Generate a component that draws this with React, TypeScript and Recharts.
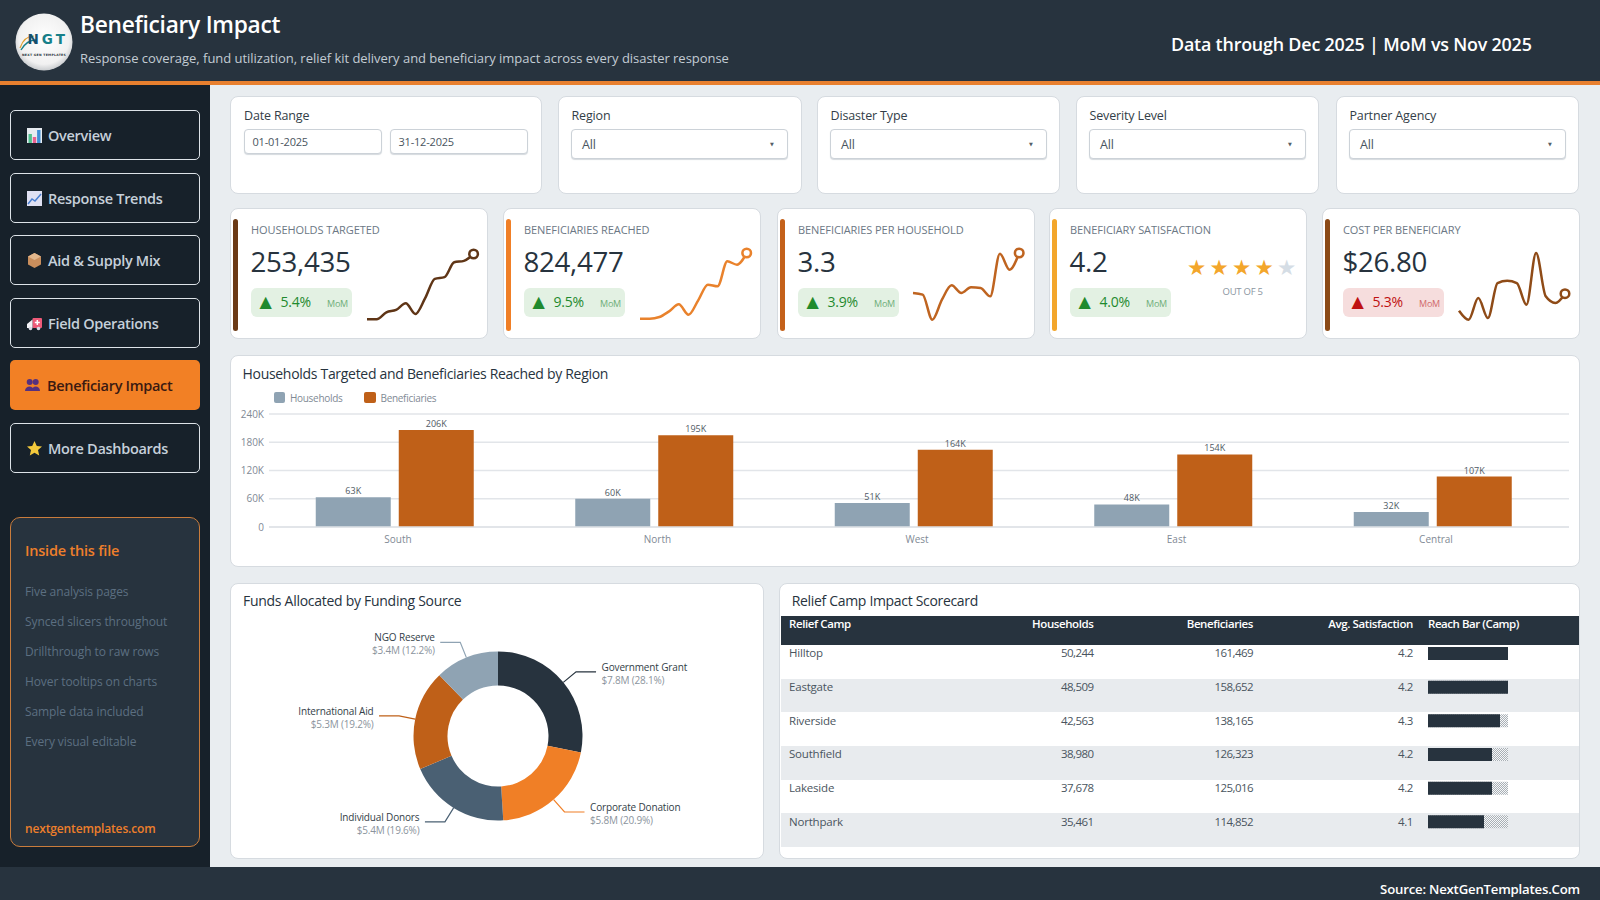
import React from "react";
import {
  Bar,
  BarChart,
  CartesianGrid,
  Cell,
  LabelList,
  Legend,
  Line,
  LineChart,
  Pie,
  PieChart,
  XAxis,
  YAxis,
} from "recharts";

const FONT = "'Open Sans', 'Noto Sans', sans-serif";
const NAVY = "#27333e";
const SLATE = "#8fa3b3";
const RUST = "#bf6018";
const ORANGE = "#f07f26";

const navItems = ["Overview", "Response Trends", "Aid & Supply Mix", "Field Operations", "Beneficiary Impact", "More Dashboards"];
const insideItems = ["Five analysis pages", "Synced slicers throughout", "Drillthrough to raw rows", "Hover tooltips on charts", "Sample data included", "Every visual editable"];
const selectFilters = ["Region", "Disaster Type", "Severity Level", "Partner Agency"];

const kpiTitles = ["HOUSEHOLDS TARGETED", "BENEFICIARIES REACHED", "BENEFICIARIES PER HOUSEHOLD", "BENEFICIARY SATISFACTION", "COST PER BENEFICIARY"];
const kpiValues = ["253,435", "824,477", "3.3", "4.2", "$26.80"];
const kpiChanges = ["5.4%", "9.5%", "3.9%", "4.0%", "5.3%"];

// monthly trend behind each KPI sparkline, Jan to Dec
const householdsTrend = [18000, 18000, 18640, 18860, 19470, 18490, 19940, 21710, 21870, 23240, 23370, 24000];
const beneficiariesTrend = [58000, 58000, 58800, 61520, 64880, 59920, 66800, 74320, 73520, 85520, 83920, 89520];
const ratioTrend = [3.16, 3.15, 3.0, 3.12, 3.206, 3.16, 3.194, 3.19, 3.14, 3.396, 3.3, 3.4];
const costTrend = [24.54, 24.0, 25.3, 24.1, 26.2, 26.34, 26.2, 24.9, 28.0, 25.4, 25.0, 25.56];

const regions = ["South", "North", "West", "East", "Central"];
const regionHouseholds = [63000, 60000, 51000, 48000, 32000];
const regionBeneficiaries = [206000, 195000, 164000, 154000, 107000];
const regionTicks = [0, 60000, 120000, 180000, 240000];

const fundingSources = ["Government Grant", "Corporate Donation", "Individual Donors", "International Aid", "NGO Reserve"];
const fundingMillions = [7.79, 5.79, 5.43, 5.32, 3.38];
const fundingColors = [NAVY, ORANGE, "#4a6073", RUST, SLATE];

const camps = ["Hilltop", "Eastgate", "Riverside", "Southfield", "Lakeside", "Northpark"];
const campHouseholds = ["50,244", "48,509", "42,563", "38,980", "37,678", "35,461"];
const campBeneficiaries = ["161,469", "158,652", "138,165", "126,323", "125,016", "114,852"];
const campSatisfaction = ["4.2", "4.2", "4.3", "4.2", "4.2", "4.1"];
const campReach = [100, 100, 90, 80, 80, 70];

const regionData = regions.map((region, i) => ({
  region,
  Households: regionHouseholds[i],
  Beneficiaries: regionBeneficiaries[i],
}));
const fundingData = fundingSources.map((name, i) => ({ name, value: fundingMillions[i] }));
const reachData = camps.map((camp, i) => ({ camp, reach: campReach[i] }));

const formatK = (v: number) => (v === 0 ? "0" : `${Math.round(v / 1000)}K`);

function Txt({ x, cy, size, color, weight = 400, right, children, spacing = -0.2 }: any) {
  return (
    <div
      style={{
        position: "absolute",
        left: right === undefined ? x : undefined,
        right: right === undefined ? undefined : 1600 - right,
        top: cy - size,
        lineHeight: `${size * 2}px`,
        fontSize: size,
        color,
        fontWeight: weight,
        whiteSpace: "nowrap",
        letterSpacing: spacing,
      }}
    >
      {children}
    </div>
  );
}

function Box({ x, y, w, h, style, children }: any) {
  return (
    <div style={{ position: "absolute", left: x, top: y, width: w, height: h, boxSizing: "border-box", ...style }}>
      {children}
    </div>
  );
}

const cardStyle = { background: "#fff", border: "1px solid #d6dbe0", borderRadius: 8 };
const inputStyle = { background: "#fff", border: "1px solid #ccd2d8", borderRadius: 4, boxShadow: "0 1px 1px #d5dade" };

function NavIcon({ index }: { index: number }) {
  const icons = [
    <g key="0">
      <rect x="0" y="0" width="15" height="15" fill="#e6ebf0" />
      <rect x="1.5" y="6" width="3.4" height="9" fill="#4fc08d" />
      <rect x="5.8" y="9" width="3.4" height="6" fill="#e8608f" />
      <rect x="10.1" y="2" width="3.4" height="13" fill="#3f8fd6" />
    </g>,
    <g key="1">
      <rect x="0" y="0" width="15" height="15" fill="#dfe0f2" />
      <path d="M1 13 L5 8 L8 10 L14 3" stroke="#4a7fd0" strokeWidth="1.5" fill="none" />
    </g>,
    <g key="2">
      <path d="M7.5 0 L14 3.5 L14 11.5 L7.5 15 L1 11.5 L1 3.5 Z" fill="#c98e5c" />
      <path d="M7.5 7 L14 3.5 L7.5 0 L1 3.5 Z" fill="#e2b78c" />
    </g>,
    <g key="3">
      <rect x="5.5" y="2" width="9.5" height="10" rx="1" fill="#ee5a78" />
      <path d="M0 8 L5.5 3.5 L5.5 12 L0 12 Z" fill="#f2f2f6" />
      <path d="M10.3 4 v5 M7.8 6.5 h5" stroke="#fff" strokeWidth="1.5" />
      <circle cx="3.5" cy="12.5" r="1.8" fill="#d9d9e6" />
      <circle cx="11.5" cy="12.5" r="1.8" fill="#d9d9e6" />
    </g>,
    <g key="4" fill="#56307f">
      <circle cx="4.7" cy="5" r="3" />
      <circle cx="10.7" cy="5" r="3" />
      <path d="M0 14 C0 8 9 8 9 14 Z" />
      <path d="M6.5 14 C6.5 8 15 8 15 14 Z" />
    </g>,
    <path key="5" d="M7.5 0 L9.8 5 L15 5.6 L11 9.1 L12.2 14.5 L7.5 11.7 L2.8 14.5 L4 9.1 L0 5.6 L5.2 5 Z" fill="#f3c93c" />,
  ];
  return (
    <svg width="15" height="15" viewBox="0 0 15 15" style={{ position: "absolute", left: index === 4 ? 15 : 15.5, top: 17 }}>
      {icons[index]}
    </svg>
  );
}

function Logo() {
  return (
    <svg width="58" height="58" viewBox="0 0 58 58" style={{ position: "absolute", left: 14.5, top: 13 }}>
      <defs>
        <radialGradient id="logoBg" cx="50%" cy="45%" r="55%">
          <stop offset="0%" stopColor="#ffffff" />
          <stop offset="80%" stopColor="#f1f1f1" />
          <stop offset="100%" stopColor="#c9cccf" />
        </radialGradient>
      </defs>
      <circle cx="29" cy="29" r="28.5" fill="url(#logoBg)" />
      <path d="M5 35 C8 26 13 23 19 23" stroke="#e0a030" strokeWidth="1.2" fill="none" />
      <path d="M6 37 C10 30 15 27 21 27" stroke="#18808a" strokeWidth="1.4" fill="none" />
      <text x="12.5" y="31" fontFamily="'DejaVu Sans', sans-serif" fontWeight="700" fontSize="13.5" letterSpacing="3">
        <tspan fill="#17506e">N</tspan>
        <tspan fill="#178089">G</tspan>
        <tspan fill="#178089">T</tspan>
      </text>
      <text x="29" y="42.5" textAnchor="middle" fontFamily="'DejaVu Sans', sans-serif" fontWeight="700" fontSize="3.1" fill="#2a3540" letterSpacing="0.3">
        NEXT GEN TEMPLATES
      </text>
    </svg>
  );
}

function Sparkline({ values, color, x1, x2, y1, y2 }: any) {
  const pad = 8;
  const data = values.map((v: number, i: number) => ({ m: i, v }));
  const width = x2 - x1 + pad * 2;
  const height = y2 - y1 + pad * 2;
  return (
    <div style={{ position: "absolute", left: x1 - pad, top: y1 - pad }}>
      <LineChart width={width} height={height} data={data} margin={{ top: pad, right: pad, bottom: pad, left: pad }}>
        <XAxis dataKey="m" hide />
        <YAxis hide domain={["dataMin", "dataMax"]} />
        <Line
          type="monotone"
          dataKey="v"
          stroke={color}
          strokeWidth={2.5}
          isAnimationActive={false}
          dot={(p: any) =>
            p.index === values.length - 1 ? (
              <circle key="end" cx={p.cx} cy={p.cy} r={4.3} fill="#fff" stroke={color} strokeWidth={2.5} />
            ) : (
              <g key={p.index} />
            )
          }
        />
      </LineChart>
    </div>
  );
}

function KpiCard({ index, x, accent, good = true, children }: any) {
  const fg = good ? "#1f8a2e" : "#bf1111";
  return (
    <Box x={x} y={208} w={257.5} h={131} style={cardStyle}>
      <Box x={1.5} y={10} w={5} h={112} style={{ background: accent, borderRadius: 3 }} />
      <Txt x={20} cy={21} size={11} color="#6c7885" weight={500} spacing={-0.08}>
        {kpiTitles[index]}
      </Txt>
      <Txt x={19.5} cy={52.5} size={27.7} color={NAVY} weight={500} spacing={-0.3}>
        {kpiValues[index]}
      </Txt>
      <Box x={20} y={78.5} w={100.5} h={29} style={{ background: good ? "#e3f1e3" : "#f6dddd", borderRadius: 6 }}>
        <Txt x={8.5} cy={13.5} size={16} color={fg}>
          <span style={{ fontFamily: "'DejaVu Sans', sans-serif" }}>▲</span>
        </Txt>
        <Txt x={29.5} cy={14.5} size={14} color={fg}>
          {kpiChanges[index]}
        </Txt>
        <Txt x={76} cy={16.5} size={9} color={good ? "#6fae78" : "#d06a6a"}>
          MoM
        </Txt>
      </Box>
      {children}
    </Box>
  );
}

function PieLabel(props: any) {
  const { cx, cy, midAngle, outerRadius, index, name, value, percent } = props;
  const rad = (midAngle * Math.PI) / 180;
  const sx = cx + outerRadius * Math.cos(rad);
  const sy = cy - outerRadius * Math.sin(rad);
  const bx = cx + (outerRadius + 16.5) * Math.cos(rad);
  const by = cy - (outerRadius + 16.5) * Math.sin(rad);
  const right = Math.cos(rad) >= 0;
  const ex = bx + (right ? 20 : -20);
  const tx = ex + (right ? 5.5 : -5.5);
  const anchor = right ? "start" : "end";
  return (
    <g>
      <polyline points={`${sx},${sy} ${bx},${by} ${ex},${by}`} fill="none" stroke={fundingColors[index]} strokeWidth={1.2} />
      <text x={tx} y={by - 1.2} textAnchor={anchor} fontSize={10} fontWeight={500} fill="#333e48" fontFamily={FONT} letterSpacing={-0.15}>
        {name}
      </text>
      <text x={tx} y={by + 12} textAnchor={anchor} fontSize={10} fill="#8b949d" fontFamily={FONT} letterSpacing={-0.2}>
        {`$${value.toFixed(1)}M (${(percent * 100).toFixed(1)}%)`}
      </text>
    </g>
  );
}

function RegionLegend({ payload }: any) {
  return (
    <div style={{ display: "flex", fontSize: 10, color: "#7f8a95", letterSpacing: -0.3 }}>
      {(payload || []).map((item: any, i: number) => (
        <div key={item.value} style={{ display: "flex", alignItems: "center", width: i === 0 ? 90.5 : undefined }}>
          <span style={{ width: 11.5, height: 11, background: item.color, borderRadius: 2, marginRight: 5 }} />
          {item.value}
        </div>
      ))}
    </div>
  );
}

export default function App() {
  const navTop = [110, 172.5, 235, 297.5, 360, 422.5];
  const filterX = [558, 817, 1076, 1336];
  const filterW = [244, 243, 243, 243];
  const rowH = 33.67;
  return (
    <div style={{ position: "relative", width: 1600, height: 900, overflow: "hidden", background: "#e9edf0", fontFamily: FONT }}>
      <style>{"body{margin:0}"}</style>

      {/* header */}
      <Box x={0} y={0} w={1600} h={85} style={{ background: NAVY, borderBottom: "4px solid #e8802f" }} />
      <Logo />
      <Txt x={80} cy={25} size={22.7} color="#fff" weight={600} spacing={-0.25}>Beneficiary Impact</Txt>
      <Txt x={80} cy={58} size={13} color="#c3ccd4" spacing={-0.03}>
        Response coverage, fund utilization, relief kit delivery and beneficiary impact across every disaster response
      </Txt>
      <Txt x={1171} cy={44.8} size={17.9} color="#fff" weight={600} spacing={-0.2}>
        Data through Dec 2025 | MoM vs Nov 2025
      </Txt>

      {/* sidebar */}
      <Box x={0} y={85} w={210} h={782} style={{ background: "#17212a" }} />
      {navItems.map((item, i) => {
        const active = i === 4;
        return (
          <Box
            key={item}
            x={10}
            y={navTop[i]}
            w={190}
            h={50}
            style={{
              background: active ? "#f28025" : "#17212a",
              border: active ? "none" : "1.5px solid #dde3e8",
              borderRadius: 5,
            }}
          >
            <NavIcon index={i} />
            <Txt x={37} cy={active ? 25.5 : 24.5} size={14.5} color={active ? "#3a1a12" : "#c6d0da"} weight={600} spacing={-0.3}>
              {item}
            </Txt>
          </Box>
        );
      })}
      <Box x={10} y={517} w={190} h={330} style={{ background: NAVY, border: "1.5px solid #c97c3c", borderRadius: 10 }} />
      <Txt x={25} cy={550} size={14.5} color="#ee7f2b" weight={600} spacing={-0.2}>Inside this file</Txt>
      {insideItems.map((item, i) => (
        <Txt key={item} x={25} cy={591.5 + i * 30} size={12} color="#5c6f81" spacing={-0.1}>
          {item}
        </Txt>
      ))}
      <Txt x={25} cy={828.5} size={12} color="#ee7f2b" weight={600} spacing={-0.15}>nextgentemplates.com</Txt>

      {/* filters */}
      <Box x={230} y={96} w={311.5} h={98} style={cardStyle}>
        <Txt x={13} cy={18} size={12.5} color="#333e48" weight={500} spacing={-0.15}>Date Range</Txt>
        <Box x={12.5} y={32} w={138} h={25} style={inputStyle}>
          <Txt x={8} cy={12} size={11} color="#4a5560">01-01-2025</Txt>
        </Box>
        <Box x={158.5} y={32} w={138} h={25} style={inputStyle}>
          <Txt x={8} cy={12} size={11} color="#4a5560">31-12-2025</Txt>
        </Box>
      </Box>
      {selectFilters.map((label, i) => (
        <Box key={label} x={filterX[i]} y={96} w={filterW[i]} h={98} style={cardStyle}>
          <Txt x={12.5} cy={18} size={12.5} color="#333e48" weight={500} spacing={-0.15}>{label}</Txt>
          <Box x={12} y={32} w={217} h={30} style={inputStyle}>
            <Txt x={10} cy={14.5} size={12.5} color="#4a5560">All</Txt>
            <Txt x={198} cy={14} size={5} color="#555f69">
              <span style={{ fontFamily: "'DejaVu Sans', sans-serif" }}>▼</span>
            </Txt>
          </Box>
        </Box>
      ))}

      {/* KPI cards */}
      <KpiCard index={0} x={230} accent="#6b3a16" />
      <KpiCard index={1} x={503} accent="#f07f26" />
      <KpiCard index={2} x={777} accent="#c4611a" />
      <KpiCard index={3} x={1049} accent="#f3a62b">
        {[0, 1, 2, 3, 4].map((s) => (
          <Txt key={s} x={137 + s * 22.5} cy={57} size={21.5} color={s < 4 ? "#f3a62b" : "#d5dde5"}>
            <span style={{ fontFamily: "'DejaVu Sans', sans-serif" }}>★</span>
          </Txt>
        ))}
        <Txt x={172.5} cy={82.5} size={9.5} color="#8b96a1" spacing={-0.25}>OUT OF 5</Txt>
      </KpiCard>
      <KpiCard index={4} x={1322} accent="#8b4a17" good={false} />
      <Sparkline values={householdsTrend} color="#5f3516" x1={366.7} x2={473.3} y1={254} y2={319.3} />
      <Sparkline values={beneficiariesTrend} color="#e9822c" x1={640} x2={746.7} y1={253.3} y2={319} />
      <Sparkline values={ratioTrend} color="#bf6420" x1={913.4} x2={1019.6} y1={253.3} y2={320} />
      <Sparkline values={costTrend} color="#8f4b17" x1={1459} x2={1565} y1={253.3} y2={320} />

      {/* region bars */}
      <Box x={230} y={355} w={1349.5} h={212} style={cardStyle} />
      <Txt x={242.5} cy={373.5} size={14} color={NAVY} weight={500} spacing={-0.3}>
        Households Targeted and Beneficiaries Reached by Region
      </Txt>
      <div style={{ position: "absolute", left: 232, top: 385 }}>
        <BarChart
          width={1346}
          height={171}
          data={regionData}
          barSize={75}
          barGap={8}
          margin={{ top: 29, right: 9, bottom: 0, left: 0 }}
        >
          <CartesianGrid vertical={false} stroke="#e2e5e9" strokeWidth={1.5} />
          <XAxis
            dataKey="region"
            height={29}
            padding={{ left: -4.25, right: 6.75 }}
            tickLine={false}
            axisLine={{ stroke: "#dfe3e7", strokeWidth: 1.5 }}
            tick={{ fontSize: 10, fill: "#7f8a95", dx: 3.5 }}
            tickMargin={3}
          />
          <YAxis
            width={37}
            domain={[0, 240000]}
            ticks={regionTicks}
            tickFormatter={formatK}
            tickLine={false}
            tickSize={0}
            axisLine={false}
            tick={{ fontSize: 10, fill: "#7f8a95" }}
            tickMargin={5}
          />
          <Legend
            layout="horizontal"
            verticalAlign="middle"
            align="center"
            itemSorter={null}
            content={<RegionLegend />}
            wrapperStyle={{ top: 5.5, left: 41.5, width: 300 }}
          />
          <Bar dataKey="Households" fill={SLATE} isAnimationActive={false}>
            <LabelList dataKey="Households" position="top" offset={3} formatter={formatK} style={{ fontSize: 9, fill: "#4f5a64" }} />
          </Bar>
          <Bar dataKey="Beneficiaries" fill={RUST} isAnimationActive={false}>
            <LabelList dataKey="Beneficiaries" position="top" offset={3} formatter={formatK} style={{ fontSize: 9, fill: "#4f5a64" }} />
          </Bar>
        </BarChart>
      </div>

      {/* funding donut */}
      <Box x={230} y={583} w={533.5} h={276} style={cardStyle} />
      <Txt x={243} cy={601} size={14} color={NAVY} weight={500} spacing={-0.28}>Funds Allocated by Funding Source</Txt>
      <div style={{ position: "absolute", left: 232, top: 610 }}>
        <PieChart width={530} height={245} margin={{ top: 0, right: 0, bottom: 0, left: 0 }}>
          <Pie
            data={fundingData}
            dataKey="value"
            nameKey="name"
            cx={266}
            cy={126}
            innerRadius={50.5}
            outerRadius={84.5}
            startAngle={90}
            endAngle={-270}
            stroke="none"
            label={PieLabel}
            labelLine={false}
            isAnimationActive={false}
          >
            {fundingData.map((entry, i) => (
              <Cell key={entry.name} fill={fundingColors[i]} />
            ))}
          </Pie>
        </PieChart>
      </div>

      {/* scorecard */}
      <Box x={779} y={583} w={800.5} h={276} style={cardStyle} />
      <Txt x={791.7} cy={601} size={14} color={NAVY} weight={500} spacing={-0.32}>Relief Camp Impact Scorecard</Txt>
      <Box x={781} y={616} w={798} h={29} style={{ background: NAVY }} />
      <Txt x={789} cy={623.5} size={11.5} color="#fff" weight={600} spacing={-0.4}>Relief Camp</Txt>
      <Txt right={1093.5} cy={623.5} size={11.5} color="#fff" weight={600} spacing={-0.4}>Households</Txt>
      <Txt right={1253} cy={623.5} size={11.5} color="#fff" weight={600} spacing={-0.4}>Beneficiaries</Txt>
      <Txt right={1413} cy={623.5} size={11.5} color="#fff" weight={600} spacing={-0.38}>Avg. Satisfaction</Txt>
      <Txt x={1428} cy={623.5} size={11.5} color="#fff" weight={600} spacing={-0.45}>Reach Bar (Camp)</Txt>
      {camps.map((camp, i) => {
        const top = 645 + i * rowH;
        return (
          <React.Fragment key={camp}>
            <Box x={781} y={top} w={798} h={rowH} style={{ background: i % 2 ? "#e8ebee" : "#fff" }} />
            <Txt x={789} cy={top + 7.8} size={11.5} color="#4a5560">{camp}</Txt>
            <Txt right={1093.5} cy={top + 7.8} size={11.5} color="#4a5560" spacing={-0.55}>{campHouseholds[i]}</Txt>
            <Txt right={1253} cy={top + 7.8} size={11.5} color="#4a5560" spacing={-0.55}>{campBeneficiaries[i]}</Txt>
            <Txt right={1413} cy={top + 7.8} size={11.5} color="#4a5560" spacing={-0.4}>{campSatisfaction[i]}</Txt>
          </React.Fragment>
        );
      })}
      <div style={{ position: "absolute", left: 1428, top: 636.5 }}>
        <BarChart width={80} height={202} data={reachData} layout="vertical" barSize={13} margin={{ top: 0, right: 0, bottom: 0, left: 0 }}>
          <defs>
            <pattern id="reachHatch" width="2" height="2" patternUnits="userSpaceOnUse">
              <rect width="2" height="2" fill="#f6f7f8" />
              <rect width="1" height="1" fill="#a9b0b6" />
              <rect x="1" y="1" width="1" height="1" fill="#a9b0b6" />
            </pattern>
          </defs>
          <XAxis type="number" domain={[0, 100]} hide />
          <YAxis type="category" dataKey="camp" hide />
          <Bar dataKey="reach" fill={NAVY} background={{ fill: "url(#reachHatch)" }} isAnimationActive={false} />
        </BarChart>
      </div>

      {/* footer */}
      <Box x={0} y={867} w={1600} h={33} style={{ background: NAVY }} />
      <Txt right={1580} cy={889.5} size={13.2} color="#fff" weight={600} spacing={-0.2}>Source: NextGenTemplates.Com</Txt>
    </div>
  );
}
